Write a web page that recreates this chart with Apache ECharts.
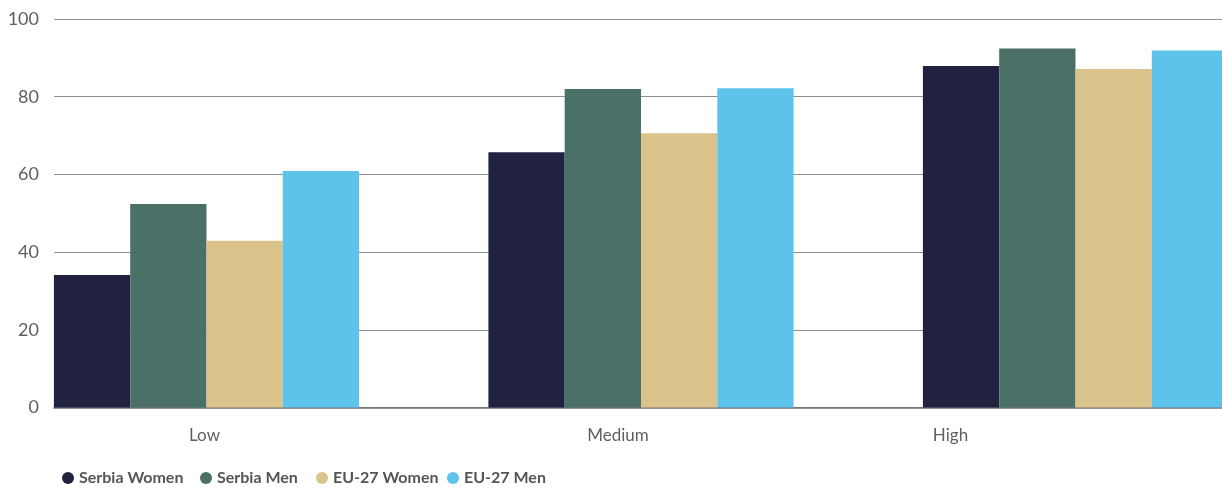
<!DOCTYPE html>
<html>
<head>
<meta charset="utf-8">
<script src="https://cdn.jsdelivr.net/npm/echarts@6/dist/echarts.min.js"></script>
<style>
  html, body { margin: 0; padding: 0; background: #ffffff; }
  #chart { width: 1222px; height: 488px; }
</style>
</head>
<body>
<div id="chart"></div>
<script>
// Employment rate by education level (%)
const categories = ['Low', 'Medium', 'High'];
const seriesNames = ['Serbia Women', 'Serbia Men', 'EU-27 Women', 'EU-27 Men'];
const serbiaWomen = [34.1, 65.7, 87.9];
const serbiaMen = [52.4, 82.0, 92.4];
const eu27Women = [42.9, 70.6, 87.1];
const eu27Men = [60.9, 82.2, 91.9];
const yTicks = [0, 20, 40, 60, 80, 100];

const colors = ['#21223f', '#4a7068', '#dbc38c', '#5dc3ea'];
const font = 'Lato, sans-serif';
const labelColor = '#5f5f5f';
// horizontal start of each legend entry
const legendLeft = [62, 200, 316, 447];

const values = [serbiaWomen, serbiaMen, eu27Women, eu27Men];

const chart = echarts.init(document.getElementById('chart'), null, { renderer: 'canvas' });

chart.setOption({
  animation: false,
  color: colors,
  legend: seriesNames.map(function (name, i) {
    return {
      data: [name],
      left: legendLeft[i],
      top: 470,
      padding: 0,
      icon: 'circle',
      itemWidth: 12,
      itemHeight: 12,
      textStyle: { fontFamily: font, fontSize: 16, fontWeight: 'bold', color: '#555555' }
    };
  }),
  grid: [
    // bar area (wider than the frame so the groups sit where the bands fall)
    { left: -10.75, width: 1303.5, top: 19, bottom: 80.5, outerBoundsMode: 'none', containLabel: false },
    // frame: value labels and gridlines
    { left: 54, right: 0, top: 19, bottom: 80.5, outerBoundsMode: 'none', containLabel: false }
  ],
  xAxis: [
    {
      type: 'category',
      gridIndex: 0,
      data: categories,
      axisLine: { show: false },
      axisTick: { show: false },
      axisLabel: {
        margin: 20,
        fontFamily: font,
        fontSize: 17,
        color: labelColor,
        formatter: function (v) {
          return v === 'Medium' ? '{m|' + v + '}' : v === 'High' ? '{h|' + v + '}' : '{l|' + v + '}';
        },
        rich: {
          l: { fontFamily: font, fontSize: 17, color: labelColor, padding: [0, 4, 0, 0] },
          m: { fontFamily: font, fontSize: 17, color: labelColor, padding: [0, 46, 0, 0] },
          h: { fontFamily: font, fontSize: 17, color: labelColor, padding: [0, 250, 0, 0] }
        }
      }
    },
    {
      type: 'category',
      gridIndex: 1,
      data: categories,
      axisLine: { show: true, lineStyle: { color: '#707070', width: 1.5 } },
      axisTick: { show: false },
      axisLabel: { show: false }
    }
  ],
  yAxis: [
    {
      type: 'value',
      gridIndex: 0,
      min: 0,
      max: 100,
      interval: 20,
      show: false,
      splitLine: { show: false }
    },
    {
      type: 'value',
      gridIndex: 1,
      min: yTicks[0],
      max: yTicks[yTicks.length - 1],
      interval: 20,
      axisLine: { show: false },
      axisTick: { show: false },
      axisLabel: { margin: 15, fontFamily: font, fontSize: 18, color: labelColor },
      splitLine: { lineStyle: { color: '#8f8f8f', width: 1 } }
    }
  ],
  series: seriesNames.map(function (name, i) {
    return {
      name: name,
      type: 'bar',
      xAxisIndex: 0,
      yAxisIndex: 0,
      data: values[i],
      barWidth: 76.3,
      barGap: '0%',
      itemStyle: { color: colors[i] },
      z: 3
    };
  })
});
</script>
</body>
</html>
